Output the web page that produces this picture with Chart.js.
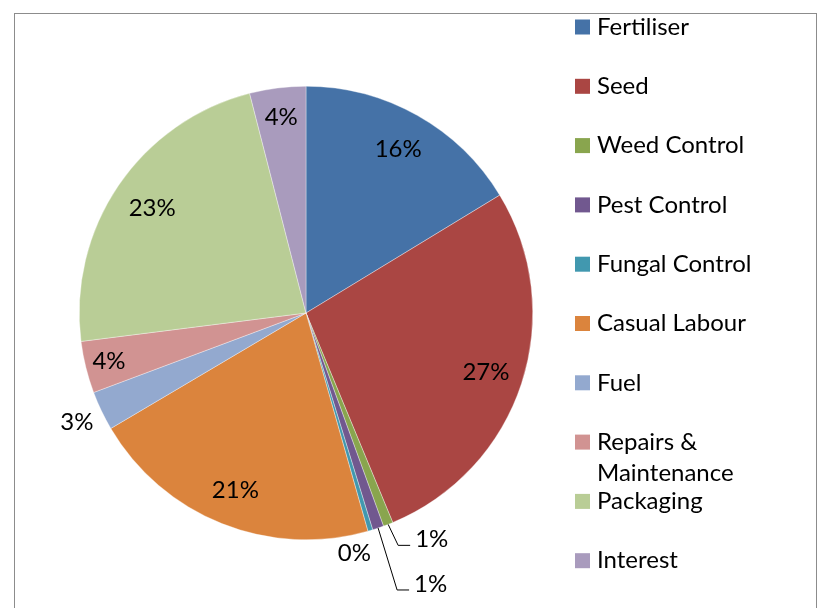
<!DOCTYPE html>
<html>
<head>
<meta charset="utf-8">
<script src="https://cdn.jsdelivr.net/npm/chart.js@4.4.0/dist/chart.umd.min.js"></script>
<style>
  html, body { margin: 0; padding: 0; background: #fff; }
  canvas { display: block; }
</style>
</head>
<body>
<canvas id="costChart" width="818" height="608"></canvas>
<script>
"use strict";

// Cost breakdown (share of total, %)
const categories = ["Fertiliser", "Seed", "Weed Control", "Pest Control", "Fungal Control",
    "Casual Labour", "Fuel", "Repairs & Maintenance", "Packaging", "Interest"];
const costShares = [16.3, 27.45, 0.7, 0.8, 0.35, 20.9, 2.8, 3.7, 23.0, 4.0];
const sliceColors = ["#4572A7", "#AA4643", "#89A54E", "#71588F", "#4198AF",
    "#DB843D", "#93A9CF", "#D19392", "#B9CD96", "#A99BBD"];

// where each percentage label sits: r = fraction of radius on the slice middle,
// leader = bend offset from the rim (tiny slices), rim = offset from the rim point
const labelLayout = [
    { r: 0.83 }, { r: 0.835 }, { leader: [10, 21] }, { leader: [19, 62] }, { rim: [-16, 23] },
    { r: 0.84 }, { r: 1.12 }, { r: 0.895 }, { r: 0.82 }, { r: 0.87 }
];

const FONT = '24px Lato, "Open Sans", sans-serif';

function wrapLines(ctx, text, maxWidth) {
    const words = text.split(" ");
    const lines = [];
    let cur = "";
    words.forEach(w => {
        const test = cur ? cur + " " + w : w;
        if (cur && ctx.measureText(test).width > maxWidth) {
            lines.push(cur);
            cur = w;
        } else {
            cur = test;
        }
    });
    if (cur) lines.push(cur);
    return lines;
}

// Percent labels on / next to the slices
const pieLabels = {
    id: "pieLabels",
    afterDatasetsDraw(chart) {
        const ctx = chart.ctx;
        const total = costShares.reduce((a, b) => a + b, 0);
        const arcs = chart.getDatasetMeta(0).data;
        ctx.save();
        ctx.font = FONT;
        ctx.fillStyle = "#000";
        ctx.strokeStyle = "#000";
        ctx.lineWidth = 1;
        ctx.textBaseline = "middle";
        arcs.forEach((arc, i) => {
            const p = arc.getProps(["x", "y", "startAngle", "endAngle", "outerRadius"], true);
            const mid = (p.startAngle + p.endAngle) / 2;
            const txt = Math.round(costShares[i] / total * 100) + "%";
            const lay = labelLayout[i];
            const rimX = p.x + Math.cos(mid) * p.outerRadius;
            const rimY = p.y + Math.sin(mid) * p.outerRadius;
            if (lay.leader) {
                const bx = rimX + lay.leader[0], by = rimY + lay.leader[1];
                ctx.beginPath();
                ctx.moveTo(rimX, rimY);
                ctx.lineTo(bx, by);
                ctx.lineTo(bx + 12, by);
                ctx.stroke();
                ctx.textAlign = "left";
                ctx.fillText(txt, bx + 17, by - 6);
            } else if (lay.rim) {
                ctx.textAlign = "center";
                ctx.fillText(txt, rimX + lay.rim[0], rimY + lay.rim[1]);
            } else {
                ctx.textAlign = "center";
                ctx.fillText(txt, p.x + Math.cos(mid) * p.outerRadius * lay.r,
                    p.y + Math.sin(mid) * p.outerRadius * lay.r);
            }
        });
        ctx.restore();
    }
};

// Legend on the right plus the outer frame
const sideLegend = {
    id: "sideLegend",
    afterDraw(chart) {
        const ctx = chart.ctx;
        ctx.save();
        ctx.font = FONT;
        ctx.textBaseline = "middle";
        ctx.textAlign = "left";
        categories.forEach((name, i) => {
            const cy = 27 + i * 59.3;
            ctx.fillStyle = sliceColors[i];
            ctx.fillRect(575, cy - 7.5, 15, 15);
            ctx.fillStyle = "#000";
            wrapLines(ctx, name, 200).forEach((line, k) => ctx.fillText(line, 597, cy + k * 31));
        });
        ctx.strokeStyle = "#8c8c8c";
        ctx.lineWidth = 1;
        ctx.strokeRect(14.5, 13.5, 802, 700);
        ctx.restore();
    }
};

new Chart(document.getElementById("costChart"), {
    type: "pie",
    data: {
        labels: categories,
        datasets: [{
            data: costShares,
            backgroundColor: sliceColors,
            borderColor: "rgba(255,255,255,0.7)",
            borderWidth: 0.5
        }]
    },
    options: {
        responsive: false,
        animation: false,
        layout: { padding: { left: 79, right: 285, top: 86, bottom: 68 } },
        plugins: {
            legend: { display: false },
            tooltip: { enabled: false }
        }
    },
    plugins: [pieLabels, sideLegend]
});
</script>
</body>
</html>
